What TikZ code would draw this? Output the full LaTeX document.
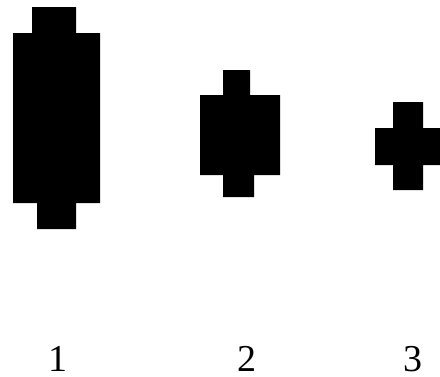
\documentclass[tikz,border=0pt]{standalone}
\usepackage{fontspec}
\setmainfont{Liberation Serif}
\begin{document}
\begin{tikzpicture}[x=1pt,y=-1pt,
  blob/.style={fill=black,draw=none},
  lbl/.style={font=\fontsize{38}{40}\selectfont,anchor=base,inner sep=0pt}]
\useasboundingbox (0,0) rectangle (440,376);
% shape 1
\fill[blob] (32,7) -- (76,7) -- (76,33) -- (100,33) -- (100,203) -- (76,203) -- (76,229)
  -- (37,229) -- (37,203) -- (13,203) -- (13,33) -- (32,33) -- cycle;
% shape 2
\fill[blob] (223,70) -- (250,70) -- (250,95) -- (280,95) -- (280,175) -- (254,175) -- (254,197)
  -- (223,197) -- (223,175) -- (200,175) -- (200,95) -- (223,95) -- cycle;
% shape 3
\fill[blob] (393,102) -- (423,102) -- (423,128) -- (440,128) -- (440,165) -- (423,165) -- (423,190)
  -- (393,190) -- (393,165) -- (375,165) -- (375,128) -- (393,128) -- cycle;
\node[lbl] (l1) at (58,371) {1};
\node[lbl] (l2) at (247,371) {2};
\node[lbl] (l3) at (413,371) {3};
\end{tikzpicture}
\end{document}
